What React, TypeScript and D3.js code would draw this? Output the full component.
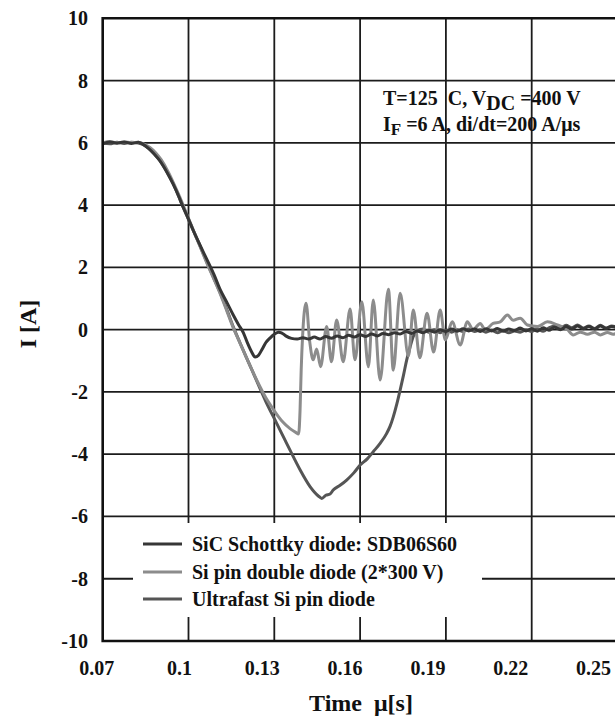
import React from 'react';
import * as d3 from 'd3';

// ---------- data ----------
const xTicks = [0.07, 0.1, 0.13, 0.16, 0.19, 0.22, 0.25];
const xTickLabels = ['0.07', '0.1', '0.13', '0.16', '0.19', '0.22', '0.25'];
const yTicks = [-10, -8, -6, -4, -2, 0, 2, 4, 6, 8, 10];

const seriesNames = [
  'SiC Schottky diode: SDB06S60',
  'Si pin double diode (2*300 V)',
  'Ultrafast Si pin diode',
];
const seriesColors = ['#363636', '#8c8c8c', '#555555'];

const sicSchottky: [number, number][] = [
  [0.07, 5.97], [0.0725, 6.03], [0.075, 5.99], [0.0775, 6.03], [0.08, 5.98], [0.0825, 6.02],
  [0.084, 5.96], [0.086, 5.82], [0.088, 5.64], [0.09, 5.42], [0.0925, 5.05], [0.0946, 4.68],
  [0.0965, 4.3], [0.0981, 3.94], [0.1, 3.55], [0.1016, 3.2], [0.104, 2.72], [0.1065, 2.24],
  [0.109, 1.75], [0.111, 1.3], [0.1135, 0.86], [0.1156, 0.48], [0.1175, 0.16], [0.1192, -0.1],
  [0.1205, -0.4], [0.122, -0.7], [0.1233, -0.88], [0.1245, -0.82], [0.1258, -0.62],
  [0.127, -0.42], [0.1285, -0.27], [0.13, -0.15], [0.1315, -0.08], [0.1325, -0.1],
  [0.134, -0.2], [0.136, -0.28], [0.138, -0.3], [0.14, -0.26], [0.142, -0.3], [0.144, -0.24],
  [0.146, -0.3], [0.148, -0.22], [0.15, -0.28], [0.152, -0.2], [0.154, -0.26], [0.156, -0.18],
  [0.158, -0.24], [0.16, -0.16], [0.162, -0.22], [0.164, -0.14], [0.166, -0.2], [0.168, -0.12],
  [0.17, -0.16], [0.172, -0.1], [0.174, -0.14], [0.176, -0.06], [0.178, -0.12], [0.18, -0.04],
  [0.182, -0.1], [0.184, -0.02], [0.186, -0.08], [0.188, 0.0], [0.19, -0.06], [0.192, 0.02],
  [0.194, -0.05], [0.196, 0.03], [0.198, -0.04], [0.2, 0.02], [0.202, -0.06], [0.204, 0.03],
  [0.206, -0.04], [0.208, 0.04], [0.21, -0.05], [0.212, 0.02], [0.214, -0.03], [0.216, 0.05],
  [0.218, -0.04], [0.22, 0.03], [0.222, -0.05], [0.224, 0.06], [0.226, -0.02], [0.228, 0.08],
  [0.23, 0.0], [0.232, 0.1], [0.234, 0.02], [0.236, 0.12], [0.238, 0.03], [0.24, 0.1],
  [0.242, 0.02], [0.244, 0.12], [0.246, 0.04], [0.248, 0.1], [0.25, 0.05],
];

const siPinDouble: [number, number][] = [
  [0.07, 6.0], [0.0725, 6.04], [0.075, 6.0], [0.0775, 6.03], [0.08, 6.01], [0.0825, 6.02],
  [0.0845, 5.96], [0.0865, 5.85], [0.0885, 5.68], [0.0905, 5.45], [0.093, 5.05], [0.095, 4.66],
  [0.097, 4.25], [0.099, 3.8], [0.101, 3.35], [0.104, 2.68], [0.1065, 2.12], [0.109, 1.6],
  [0.111, 1.17], [0.1135, 0.58], [0.1157, 0.05], [0.118, -0.43], [0.121, -1.05], [0.124, -1.65],
  [0.127, -2.18], [0.1296, -2.55], [0.1315, -2.8], [0.133, -2.97], [0.1355, -3.18],
  [0.1375, -3.3], [0.1385, -3.35], [0.139, -2.6], [0.1394, -1.3], [0.1399, -0.2], [0.1411, 0.85],
  [0.1424, -0.4], [0.1436, -0.97], [0.1448, -0.62], [0.1462, -1.19], [0.1483, 0.1],
  [0.15, -1.03], [0.1518, 0.31], [0.1541, -1.03], [0.1565, 0.66], [0.1582, -0.97],
  [0.1606, 0.9], [0.1629, -1.19], [0.1646, 0.95], [0.167, -1.62], [0.1699, 1.3], [0.1716, -1.3],
  [0.174, 1.17], [0.1769, -0.85], [0.1786, 0.63], [0.1809, -0.9], [0.1834, 0.53],
  [0.1857, -0.72], [0.188, 0.63], [0.1898, -0.33], [0.1922, 0.25], [0.195, -0.49],
  [0.1975, 0.25], [0.1995, 0.0], [0.202, 0.2], [0.2037, 0.0], [0.2065, 0.2], [0.209, 0.25],
  [0.2115, 0.47], [0.2135, 0.3], [0.216, 0.37], [0.2185, 0.15], [0.222, 0.1], [0.2255, 0.25],
  [0.229, 0.15], [0.2325, 0.0], [0.2345, -0.17], [0.237, -0.08], [0.2395, -0.15],
  [0.242, -0.08], [0.244, -0.17], [0.2465, -0.09], [0.2485, -0.15], [0.25, -0.1],
];

const ultrafastSiPin: [number, number][] = [
  [0.07, 6.0], [0.0725, 5.97], [0.075, 6.02], [0.0775, 5.98], [0.08, 6.02], [0.0825, 5.99],
  [0.084, 5.95], [0.086, 5.83], [0.088, 5.65], [0.09, 5.44], [0.0925, 5.06], [0.0946, 4.7],
  [0.0981, 3.94], [0.1016, 3.2], [0.104, 2.7], [0.1065, 2.15], [0.109, 1.62], [0.111, 1.2],
  [0.1135, 0.62], [0.1157, 0.08], [0.118, -0.42], [0.121, -1.05], [0.124, -1.68], [0.127, -2.3],
  [0.1308, -3.0], [0.1335, -3.5], [0.1355, -3.87], [0.139, -4.5], [0.1425, -5.04],
  [0.1455, -5.35], [0.1466, -5.42], [0.148, -5.32], [0.1495, -5.28], [0.1506, -5.15],
  [0.153, -5.0], [0.1553, -4.83], [0.1578, -4.6], [0.16, -4.35], [0.1625, -4.15],
  [0.1646, -3.92], [0.167, -3.65], [0.1693, -3.33], [0.1705, -3.1], [0.1716, -2.8],
  [0.1728, -2.4], [0.174, -1.94], [0.1752, -1.45], [0.1763, -0.97], [0.1775, -0.55],
  [0.1786, -0.22], [0.18, -0.05], [0.182, 0.02], [0.184, -0.08], [0.186, 0.0], [0.188, -0.1],
  [0.19, -0.02], [0.192, -0.08], [0.194, 0.0], [0.196, -0.06], [0.198, 0.02], [0.2, -0.06],
  [0.202, 0.0], [0.204, -0.08], [0.206, -0.02], [0.208, -0.1], [0.21, -0.03], [0.212, -0.1],
  [0.214, -0.04], [0.216, -0.08], [0.218, 0.0], [0.22, -0.06], [0.222, 0.02], [0.224, -0.05],
  [0.226, 0.06], [0.228, 0.12], [0.23, 0.05], [0.232, 0.14], [0.234, 0.06], [0.236, 0.15],
  [0.238, 0.05], [0.24, 0.12], [0.242, 0.04], [0.244, 0.14], [0.246, 0.05], [0.248, 0.12],
  [0.25, 0.08],
];

// ---------- layout ----------
const W = 615;
const H = 717;
const left = 102.7;
const right = 617.5;
const top = 18.3;
const bottom = 641;
const FONT = '"Liberation Serif", "Times New Roman", serif';

export default function App() {
  const x = d3.scaleLinear().domain([0.07, 0.25]).range([left, right]);
  const y = d3.scaleLinear().domain([-10, 10]).range([bottom, top]);
  // tick labels in the original drift slightly left of their gridlines
  const xLabel = d3.scaleLinear().domain([0.07, 0.25]).range([left - 6, right - 24]);

  const line = d3
    .line<[number, number]>()
    .x((d) => x(d[0]))
    .y((d) => y(d[1]))
    .curve(d3.curveMonotoneX);

  const series = [sicSchottky, siPinDouble, ultrafastSiPin];
  const drawOrder = [2, 1, 0];

  const legendX = 133;
  const legendY = 523;
  const legendRows = [544, 572, 599];

  return (
    <svg
      width={W}
      height={H}
      style={{ position: 'absolute', left: 0, top: 0, background: '#fff' }}
      fontFamily={FONT}
    >
      <defs>
        <clipPath id="plot">
          <rect x={left} y={top} width={right - left} height={bottom - top} />
        </clipPath>
      </defs>
      <rect x={0} y={0} width={W} height={H} fill="#fff" />

      {/* grid */}
      {yTicks
        .filter((v) => v > -10 && v < 10)
        .map((v) => (
          <line key={'gy' + v} x1={left} x2={right} y1={y(v)} y2={y(v)} stroke="#1c1c1c" strokeWidth={1.8} />
        ))}
      {xTicks
        .filter((v) => v > 0.07)
        .map((v) => (
          <line key={'gx' + v} x1={x(v)} x2={x(v)} y1={top} y2={bottom} stroke="#1c1c1c" strokeWidth={1.8} />
        ))}

      {/* legend background */}
      <rect x={legendX} y={legendY} width={349} height={94} fill="#fff" />

      {/* curves */}
      <g clipPath="url(#plot)">
        {drawOrder.map((i) => (
          <path
            key={'s' + i}
            d={line(series[i]) || ''}
            fill="none"
            stroke={seriesColors[i]}
            strokeWidth={3}
            strokeLinejoin="round"
          />
        ))}
      </g>

      {/* frame */}
      <polyline
        points={`${right + 5},${top} ${left},${top} ${left},${bottom} ${right + 5},${bottom}`}
        fill="none"
        stroke="#111"
        strokeWidth={2.6}
      />

      {/* y tick labels */}
      {yTicks.map((v) => (
        <text
          key={'ty' + v}
          x={88}
          y={y(v)}
          dy="0.35em"
          textAnchor="end"
          fontSize={20}
          fontWeight="bold"
          fill="#111"
        >
          {v}
        </text>
      ))}

      {/* x tick labels */}
      {xTicks.map((v, i) => (
        <text
          key={'tx' + v}
          x={xLabel(v)}
          y={675}
          textAnchor="middle"
          fontSize={20}
          fontWeight="bold"
          fill="#111"
        >
          {xTickLabels[i]}
        </text>
      ))}

      {/* axis titles */}
      <text x={361} y={711} textAnchor="middle" fontSize={24} fontWeight="bold" fill="#111" style={{ whiteSpace: 'pre' }}>
        {'Time  μ[s]'}
      </text>
      <text
        transform={`translate(36,${324}) rotate(-90)`}
        textAnchor="middle"
        fontSize={24}
        fontWeight="bold"
        fill="#111"
      >
        I [A]
      </text>

      {/* annotation */}
      <text x={383} y={105} fontSize={20} fontWeight="bold" fill="#111" style={{ whiteSpace: 'pre' }}>
        <tspan>{'T=125  C, V'}</tspan>
        <tspan dy={5}>{'DC'}</tspan>
        <tspan dy={-5}>{' =400 V'}</tspan>
      </text>
      <text x={383} y={131} fontSize={20} fontWeight="bold" fill="#111" style={{ whiteSpace: 'pre' }}>
        <tspan>{'I'}</tspan>
        <tspan dy={4} fontSize={17}>{'F'}</tspan>
        <tspan dy={-4}>{' =6 A, di/dt=200 A/μs'}</tspan>
      </text>

      {/* legend */}
      {seriesNames.map((name, i) => (
        <g key={'lg' + i}>
          <line x1={143} x2={182} y1={legendRows[i]} y2={legendRows[i]} stroke={seriesColors[i]} strokeWidth={3.2} />
          <text x={192} y={legendRows[i] + 7} fontSize={20} fontWeight="bold" fill="#111">
            {name}
          </text>
        </g>
      ))}
    </svg>
  );
}
